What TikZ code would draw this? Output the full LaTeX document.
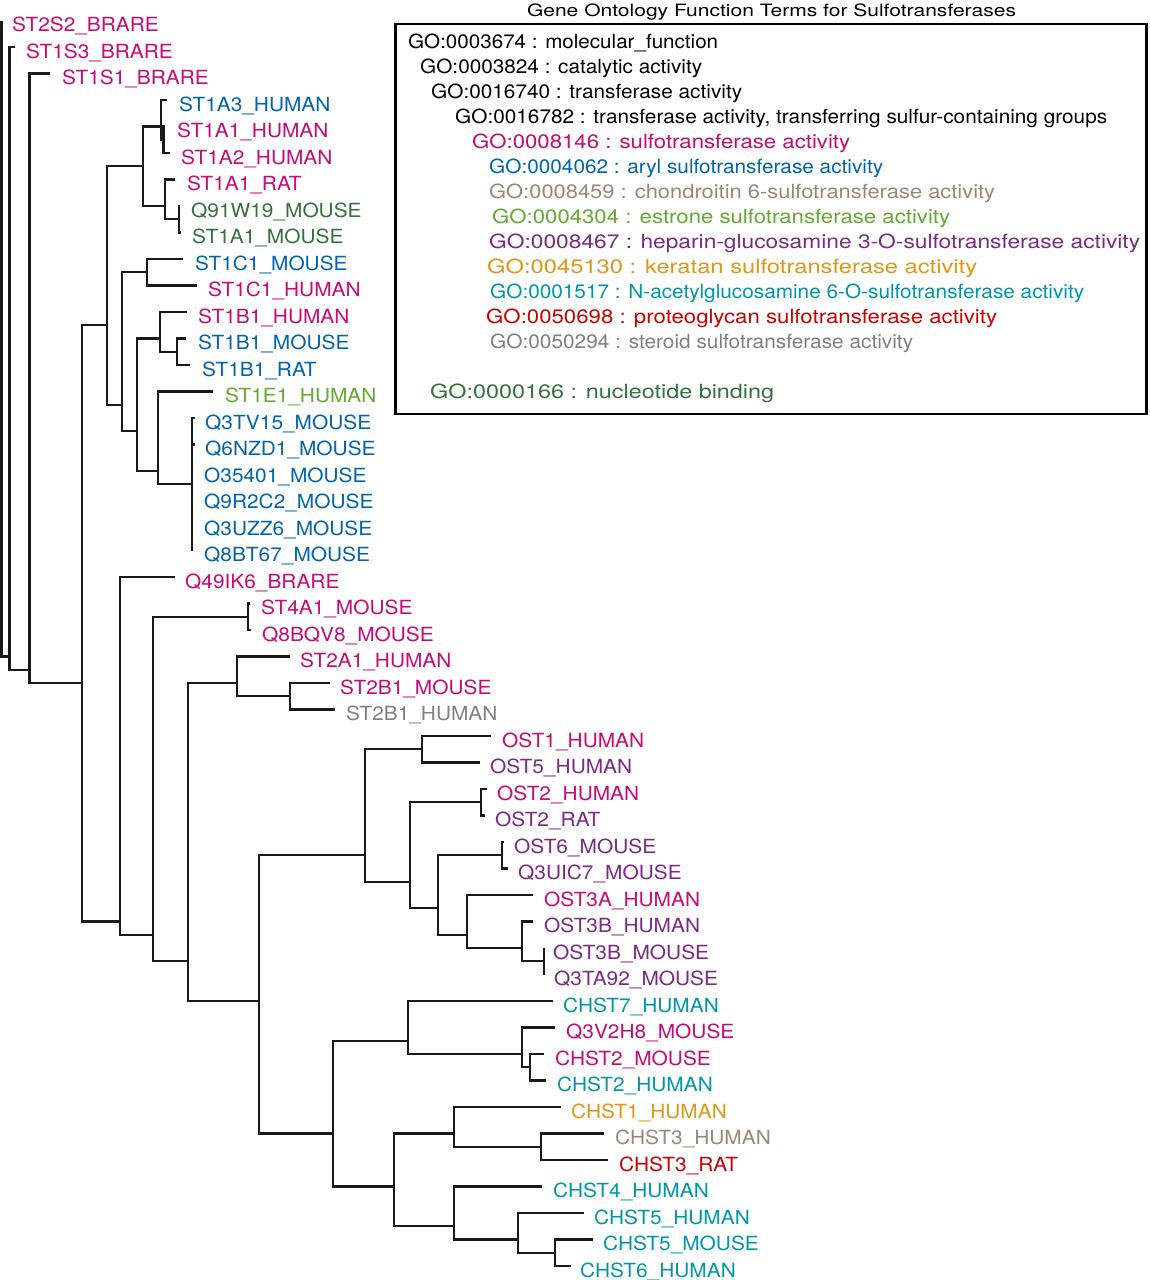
\documentclass[tikz,border=0pt]{standalone}
\usepackage{fontspec}
\setmainfont{TeX Gyre Heros}
\usepackage{graphicx}
\definecolor{mag}{RGB}{200,10,120}
\definecolor{blu}{RGB}{0,100,175}
\definecolor{tanc}{RGB}{155,135,115}
\definecolor{lgr}{RGB}{100,170,50}
\definecolor{pur}{RGB}{125,40,135}
\definecolor{org}{RGB}{225,150,20}
\definecolor{tea}{RGB}{0,150,170}
\definecolor{gored}{RGB}{205,0,0}
\definecolor{gry}{RGB}{128,128,128}
\definecolor{dgr}{RGB}{50,115,60}
\definecolor{brc}{RGB}{25,25,25}
\newsavebox\fitbox
\newcommand\fitw[2]{\sbox\fitbox{#2}\pgfmathsetmacro\fitfac{#1/\the\wd\fitbox}\scalebox{\fitfac}[1]{\usebox\fitbox}}
\newcommand\rowy[1]{20.5+(#1-1)*26.5}
\newcommand\lsx{1.07}
\newcommand\leaf[6]{%
  \coordinate (#1) at (#3,{\rowy{#2}});
  \node[leaflab, text=#5] (#1-t) at (#4,{\rowy{#2}+11}) {\scalebox{\lsx}[1]{#6}};}
\newcommand\inode[4]{\coordinate (#1) at (#2,{\rowy{(#3+#4)/2}});}
\tikzset{
  leaflab/.style={anchor=base west, inner sep=0pt, font=\fontsize{19.5}{20}\selectfont},
  gorow/.style={anchor=base west, inner sep=0pt, font=\fontsize{19.5}{20}\selectfont},
  br/.style={draw=brc, line width=2.3pt},
  legendbox/.style={draw=black, line width=2.4pt}
}
\begin{document}
\begin{tikzpicture}[x=1pt, y=-1pt]
\useasboundingbox (0,0) rectangle (1149,1280);
% leaves
\leaf{l1}{1}{1.5}{12}{mag}{ST2S2\_BRARE}
\leaf{l2}{2}{15}{26}{mag}{ST1S3\_BRARE}
\leaf{l3}{3}{50}{62}{mag}{ST1S1\_BRARE}
\leaf{l4}{4}{167}{179}{blu}{ST1A3\_HUMAN}
\leaf{l5}{5}{165}{177}{mag}{ST1A1\_HUMAN}
\leaf{l6}{6}{170}{181}{mag}{ST1A2\_HUMAN}
\leaf{l7}{7}{175}{187}{mag}{ST1A1\_RAT}
\leaf{l8}{8}{180}{191}{dgr}{Q91W19\_MOUSE}
\leaf{l9}{9}{181}{192}{dgr}{ST1A1\_MOUSE}
\leaf{l10}{10}{183}{195}{blu}{ST1C1\_MOUSE}
\leaf{l11}{11}{197}{208}{mag}{ST1C1\_HUMAN}
\leaf{l12}{12}{187}{198}{mag}{ST1B1\_HUMAN}
\leaf{l13}{13}{186}{198}{blu}{ST1B1\_MOUSE}
\leaf{l14}{14}{190}{202}{blu}{ST1B1\_RAT}
\leaf{l15}{15}{213}{225}{lgr}{ST1E1\_HUMAN}
\leaf{l16}{16}{195}{205}{blu}{Q3TV15\_MOUSE}
\leaf{l17}{17}{195}{205}{blu}{Q6NZD1\_MOUSE}
\leaf{l18}{18}{192}{204}{blu}{O35401\_MOUSE}
\leaf{l19}{19}{192}{204}{blu}{Q9R2C2\_MOUSE}
\leaf{l20}{20}{192}{204}{blu}{Q3UZZ6\_MOUSE}
\leaf{l21}{21}{192}{204}{blu}{Q8BT67\_MOUSE}
\leaf{l22}{22}{175}{185}{mag}{Q49IK6\_BRARE}
\leaf{l23}{23}{250}{261}{mag}{ST4A1\_MOUSE}
\leaf{l24}{24}{251}{262}{mag}{Q8BQV8\_MOUSE}
\leaf{l25}{25}{290}{300}{mag}{ST2A1\_HUMAN}
\leaf{l26}{26}{330}{340}{mag}{ST2B1\_MOUSE}
\leaf{l27}{27}{335}{346}{gry}{ST2B1\_HUMAN}
\leaf{l28}{28}{491}{502}{mag}{OST1\_HUMAN}
\leaf{l29}{29}{480}{490}{pur}{OST5\_HUMAN}
\leaf{l30}{30}{487}{497}{mag}{OST2\_HUMAN}
\leaf{l31}{31}{485}{495}{pur}{OST2\_RAT}
\leaf{l32}{32}{504}{514}{pur}{OST6\_MOUSE}
\leaf{l33}{33}{508}{518}{pur}{Q3UIC7\_MOUSE}
\leaf{l34}{34}{533}{544}{mag}{OST3A\_HUMAN}
\leaf{l35}{35}{533}{544}{pur}{OST3B\_HUMAN}
\leaf{l36}{36}{544}{553}{pur}{OST3B\_MOUSE}
\leaf{l37}{37}{544}{554}{pur}{Q3TA92\_MOUSE}
\leaf{l38}{38}{553}{563}{tea}{CHST7\_HUMAN}
\leaf{l39}{39}{555}{566}{mag}{Q3V2H8\_MOUSE}
\leaf{l40}{40}{544}{555}{mag}{CHST2\_MOUSE}
\leaf{l41}{41}{546}{557}{tea}{CHST2\_HUMAN}
\leaf{l42}{42}{561}{571}{org}{CHST1\_HUMAN}
\leaf{l43}{43}{604}{615}{tanc}{CHST3\_HUMAN}
\leaf{l44}{44}{608}{619}{gored}{CHST3\_RAT}
\leaf{l45}{45}{542}{553}{tea}{CHST4\_HUMAN}
\leaf{l46}{46}{584}{594}{tea}{CHST5\_HUMAN}
\leaf{l47}{47}{593}{603}{tea}{CHST5\_MOUSE}
\leaf{l48}{48}{571}{580}{tea}{CHST6\_HUMAN}
% internal nodes
\inode{R0}{1.5}{1}{48}
\inode{N2}{9.5}{2}{48}
\inode{N3}{29.5}{3}{48}
\inode{N4}{82}{4}{48}
\inode{A}{107}{4}{21}
\inode{A1}{143}{4}{9}
\inode{A11}{161}{4}{6}
\inode{A111}{163.5}{5}{6}
\inode{A12}{165}{7}{9}
\inode{A121}{179}{8}{9}
\inode{A2}{122}{10}{21}
\inode{A21}{147}{10}{11}
\inode{A22}{137}{12}{21}
\inode{A221}{160}{12}{14}
\inode{A2211}{177}{13}{14}
\inode{A222}{158}{15}{21}
\inode{A2221}{192}{16}{21}
\inode{B}{120}{22}{48}
\inode{B1}{153}{23}{48}
\inode{B11}{248}{23}{24}
\inode{B12}{188}{25}{48}
\inode{B121}{237}{25}{27}
\inode{B1211}{290}{26}{27}
\inode{B122}{259}{28}{48}
\inode{C}{365}{28}{37}
\inode{C1}{422}{28}{29}
\inode{C2}{410}{30}{37}
\inode{C21}{481}{30}{31}
\inode{C22}{438}{32}{37}
\inode{C221}{502}{32}{33}
\inode{C222}{467}{34}{37}
\inode{C2221}{522}{35}{37}
\inode{C22211}{544}{36}{37}
\inode{D}{333}{38}{48}
\inode{D1}{408}{38}{41}
\inode{D11}{522}{39}{41}
\inode{D111}{530}{40}{41}
\inode{D2}{394}{42}{48}
\inode{D21}{454}{42}{44}
\inode{D211}{541}{43}{44}
\inode{D22}{454}{45}{48}
\inode{D221}{518}{46}{48}
\inode{D2211}{555}{47}{48}
% branches
\draw[br] (l1) -| (R0) |- (N2);
\draw[br] (l2) -| (N2) |- (N3);
\draw[br] (l3) -| (N3) |- (N4);
\draw[br] (A) -| (N4) |- (B);
\draw[br] (A1) -| (A) |- (A2);
\draw[br] (A11) -| (A1) |- (A12);
\draw[br] (l4) -| (A11) |- (A111);
\draw[br] (l5) -| (A111) |- (l6);
\draw[br] (l7) -| (A12) |- (A121);
\draw[br] (l8) -| (A121) |- (l9);
\draw[br] (A21) -| (A2) |- (A22);
\draw[br] (l10) -| (A21) |- (l11);
\draw[br] (A221) -| (A22) |- (A222);
\draw[br] (l12) -| (A221) |- (A2211);
\draw[br] (l13) -| (A2211) |- (l14);
\draw[br] (l15) -| (A222) |- (A2221);
\draw[br] (l16) -| (A2221) |- (l21);
\draw[br] (A2221) |- (l17);
\draw[br] (A2221) |- (l18);
\draw[br] (A2221) |- (l19);
\draw[br] (A2221) |- (l20);
\draw[br] (l22) -| (B) |- (B1);
\draw[br] (B11) -| (B1) |- (B12);
\draw[br] (l23) -| (B11) |- (l24);
\draw[br] (B121) -| (B12) |- (B122);
\draw[br] (l25) -| (B121) |- (B1211);
\draw[br] (l26) -| (B1211) |- (l27);
\draw[br] (C) -| (B122) |- (D);
\draw[br] (C1) -| (C) |- (C2);
\draw[br] (l28) -| (C1) |- (l29);
\draw[br] (C21) -| (C2) |- (C22);
\draw[br] (l30) -| (C21) |- (l31);
\draw[br] (C221) -| (C22) |- (C222);
\draw[br] (l32) -| (C221) |- (l33);
\draw[br] (l34) -| (C222) |- (C2221);
\draw[br] (l35) -| (C2221) |- (C22211);
\draw[br] (l36) -| (C22211) |- (l37);
\draw[br] (D1) -| (D) |- (D2);
\draw[br] (l38) -| (D1) |- (D11);
\draw[br] (l39) -| (D11) |- (D111);
\draw[br] (l40) -| (D111) |- (l41);
\draw[br] (D21) -| (D2) |- (D22);
\draw[br] (l42) -| (D21) |- (D211);
\draw[br] (l43) -| (D211) |- (l44);
\draw[br] (l45) -| (D22) |- (D221);
\draw[br] (l46) -| (D221) |- (D2211);
\draw[br] (l47) -| (D2211) |- (l48);
% legend
\node[anchor=base, inner sep=0pt, font=\fontsize{17}{18}\selectfont] (title) at (771.5,16.5) {\fitw{489}{Gene Ontology Function Terms for Sulfotransferases}};
\coordinate (bx1) at (395.5,24);
\coordinate (bx2) at (1146.5,414);
\draw[legendbox] (bx1) rectangle (bx2);
\node[gorow] (g1) at (408,48) {\fitw{310}{GO:0003674 : molecular\_function}};
\node[gorow] (g2) at (420,73) {\fitw{282}{GO:0003824 : catalytic activity}};
\node[gorow] (g3) at (431,98) {\fitw{311}{GO:0016740 : transferase activity}};
\node[gorow] (g4) at (455,123) {\fitw{652}{GO:0016782 : transferase activity, transferring sulfur-containing groups}};
\node[gorow, text=mag] (g5) at (472,148) {\fitw{378}{GO:0008146 : sulfotransferase activity}};
\node[gorow, text=blu] (g6) at (489,173) {\fitw{394}{GO:0004062 : aryl sulfotransferase activity}};
\node[gorow, text=tanc] (g7) at (489,198) {\fitw{506}{GO:0008459 : chondroitin 6-sulfotransferase activity}};
\node[gorow, text=lgr] (g8) at (492,223) {\fitw{458}{GO:0004304 : estrone sulfotransferase activity}};
\node[gorow, text=pur] (g9) at (489,248) {\fitw{651}{GO:0008467 : heparin-glucosamine 3-O-sulfotransferase activity}};
\node[gorow, text=org] (g10) at (487,273) {\fitw{490}{GO:0045130 : keratan sulfotransferase activity}};
\node[gorow, text=tea] (g11) at (490,298) {\fitw{594}{GO:0001517 : N-acetylglucosamine 6-O-sulfotransferase activity}};
\node[gorow, text=gored] (g12) at (486,323) {\fitw{511}{GO:0050698 : proteoglycan sulfotransferase activity}};
\node[gorow, text=gry] (g13) at (490,348) {\fitw{423}{GO:0050294 : steroid sulfotransferase activity}};
\node[gorow, text=dgr] (g14) at (430,398) {\fitw{344}{GO:0000166 : nucleotide binding}};
\end{tikzpicture}
\end{document}
